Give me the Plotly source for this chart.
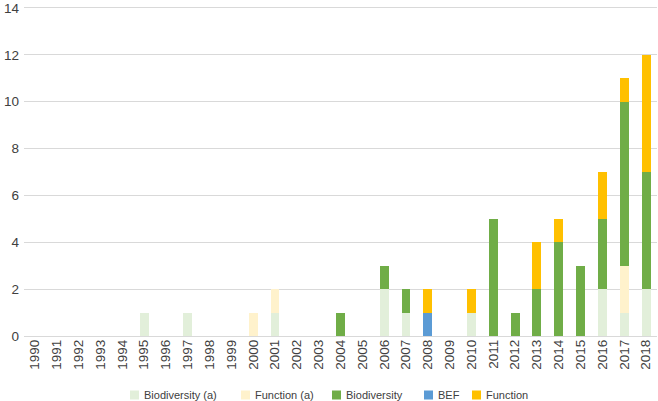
import plotly.graph_objects as go

years = [str(y) for y in range(1990, 2019)]

biodiversity_a = [0,0,0,0,0,1,0,1,0,0,0,1,0,0,0,0,2,1,0,0,1,0,0,0,0,0,2,1,2]
function_a     = [0,0,0,0,0,0,0,0,0,0,1,1,0,0,0,0,0,0,0,0,0,0,0,0,0,0,0,2,0]
biodiversity   = [0,0,0,0,0,0,0,0,0,0,0,0,0,0,1,0,1,1,0,0,0,5,1,2,4,3,3,7,5]
bef            = [0,0,0,0,0,0,0,0,0,0,0,0,0,0,0,0,0,0,1,0,0,0,0,0,0,0,0,0,0]
function       = [0,0,0,0,0,0,0,0,0,0,0,0,0,0,0,0,0,0,1,0,1,0,0,2,1,0,2,1,5]

series_names = ["Biodiversity (a)", "Function (a)", "Biodiversity", "BEF", "Function"]
series_values = [biodiversity_a, function_a, biodiversity, bef, function]
series_colors = ["#e2efda", "#fff2cc", "#70ad47", "#5b9bd5", "#ffc000"]

W, H = 658, 401
ML, MR, MT, MB = 24, 1, 3, 65
PW, PH = W - ML - MR, H - MT - MB

def px_x(p):
    return (p - ML) / PW

def px_y(p):
    return (H - MB - p) / PH

fig = go.Figure()
for name, vals, col in zip(series_names, series_values, series_colors):
    fig.add_trace(go.Bar(x=years, y=vals, name=name, marker=dict(color=col, line=dict(width=0))))

# legend drawn as swatches + text (matching the compact Excel-style legend)
legend_sq_x = [130, 241, 332, 424, 472]
shapes, annotations = [], []
for sx, name, col in zip(legend_sq_x, series_names, series_colors):
    shapes.append(dict(type="rect", xref="paper", yref="paper",
                       x0=px_x(sx), x1=px_x(sx + 9), y0=px_y(399.5), y1=px_y(390.5),
                       fillcolor=col, line=dict(width=0)))
    annotations.append(dict(text=name, xref="paper", yref="paper", x=px_x(sx + 11.5),
                            y=px_y(395), xanchor="left", yanchor="middle", showarrow=False,
                            font=dict(size=11, color="#404040")))

font = "Liberation Sans, Arial, sans-serif"
fig.update_layout(
    barmode="stack",
    bargap=0.59,
    width=W, height=H,
    margin=dict(l=ML, r=MR, t=MT, b=MB, autoexpand=False),
    paper_bgcolor="white", plot_bgcolor="white",
    font=dict(family=font, size=13, color="#404040"),
    xaxis=dict(type="category", tickangle=-90, showgrid=False, showline=False,
               ticks="", automargin=False, tickfont=dict(size=13.5, color="#404040")),
    yaxis=dict(range=[0, 14.21], tickvals=[0, 2, 4, 6, 8, 10, 12, 14],
               showgrid=True, gridcolor="#d9d9d9", gridwidth=1,
               zeroline=True, zerolinecolor="#d9d9d9", zerolinewidth=1,
               ticks="", automargin=False, tickfont=dict(size=13.5, color="#404040"),
               ticklabelstandoff=4, ticklabeloverflow="allow"),
    showlegend=False,
    shapes=shapes,
    annotations=annotations,
)

fig.write_html("out.html", config=dict(displayModeBar=False),
               post_script="document.body.style.margin='0';document.body.style.overflow='hidden';")
